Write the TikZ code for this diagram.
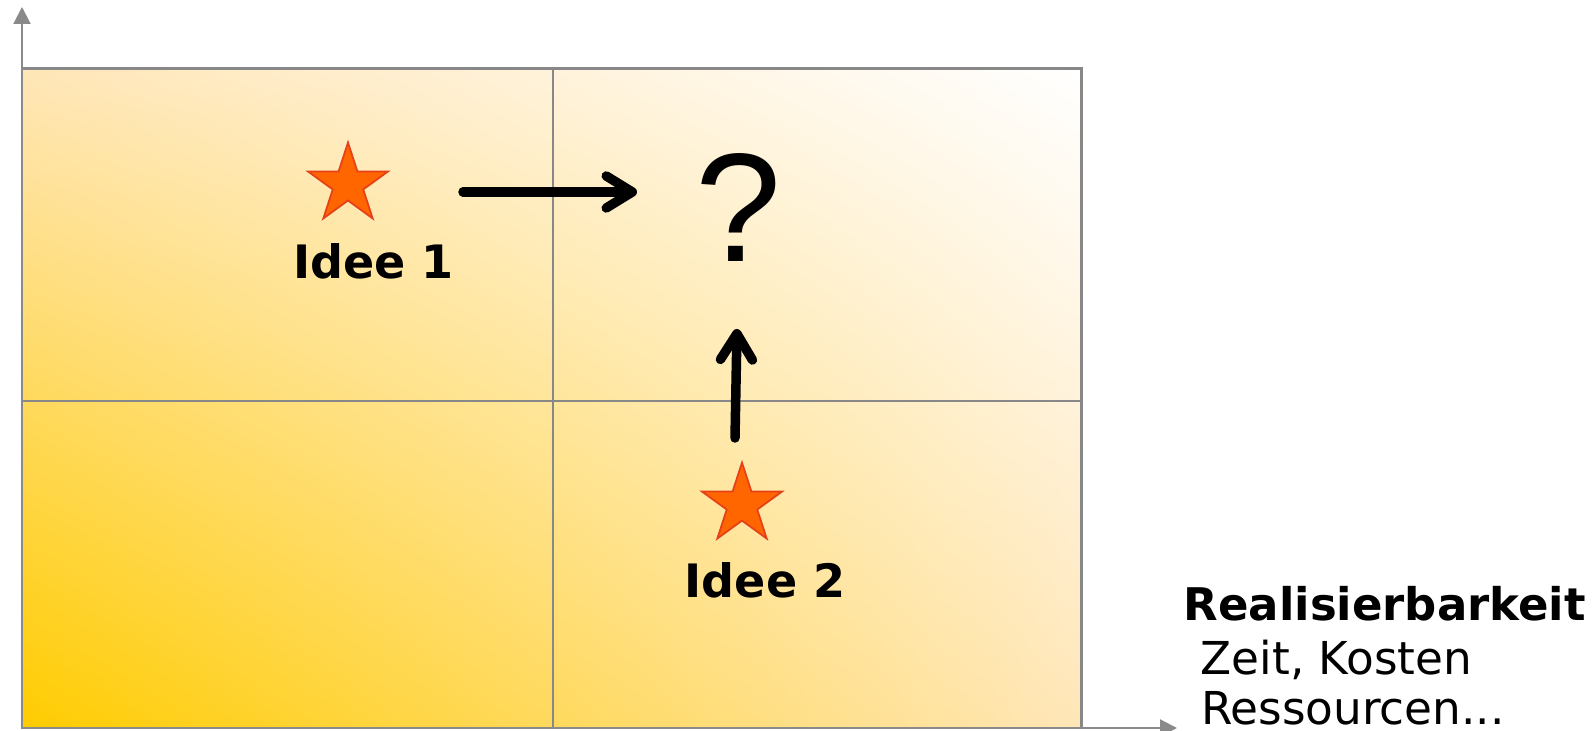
\documentclass[tikz,border=0pt]{standalone}
\usepackage{fontspec}
\setmainfont{DejaVu Sans}
\newfontfamily\qmarkfont{Liberation Sans}
\usetikzlibrary{arrows.meta,calc,shapes.geometric,shadings}
\definecolor{axisgray}{HTML}{8A8A8A}
\definecolor{gridgray}{HTML}{888888}
\definecolor{deepyellow}{HTML}{FFCC00}
\definecolor{paleorange}{HTML}{FFE6B8}
\definecolor{starfill}{HTML}{FF6600}
\definecolor{stardraw}{HTML}{E5401A}
\tikzset{
  axis/.style={-{Triangle[length=1.7mm,width=1.7mm]},draw=axisgray,line width=0.6pt},
  cell/.style={draw=gridgray,line width=0.6pt},
  ideastar/.style={star,star points=5,star point ratio=2.618,minimum size=8.4mm,
    inner sep=0pt,fill=starfill,draw=stardraw,line width=0.5pt},
  idea/.style={font=\fontsize{13.1}{15}\selectfont\bfseries,anchor=base},
  arr/.style={-{Straight Barb[length=2.6mm,width=3.2mm,round]},line width=2.7pt,line cap=round},
  lbl/.style={font=\fontsize{12.9}{15}\selectfont,anchor=base west,inner sep=0pt},
}
\begin{document}
\begin{tikzpicture}[x=1cm,y=1cm]
  \useasboundingbox (0,0) rectangle (15.94,7.31);
  \coordinate (o) at (0.22,0.03);
  \coordinate (tr) at (10.81,6.62);
  \coordinate (ytop) at (0.22,7.24);
  \coordinate (xend) at (11.77,0.03);
  % portfolio field
  \shade[lower left=deepyellow,upper left=paleorange,lower right=paleorange,upper right=white]
    (o) rectangle (tr);
  \draw[cell] (5.53,0.03) -- (5.53,6.62);
  \draw[cell] (0.22,3.30) -- (10.81,3.30);
  \draw[cell,line width=0.85pt] (o) rectangle (tr);
  \draw[axis] (o) -- (ytop);
  \draw[axis] (o) -- (xend);
  % ideas
  \node[ideastar] (s1) at (3.48,5.465) {};
  \node[idea] (i1) at (3.735,4.52) {Idee 1};
  \node[ideastar] (s2) at (7.42,2.264) {};
  \node[idea] (i2) at (7.65,1.33) {Idee 2};
  \node[font=\qmarkfont\fontsize{44}{50}\selectfont,anchor=base,inner sep=0pt] (q) at (7.38,4.69) {?};
  \draw[arr] ($(s1.center)+(1.15,-0.075)$) -- ($(q.base)+(-1.01,0.70)$);
  \draw[arr] ($(s2.center)+(-0.07,0.666)$) -- ($(q.base)+(-0.01,-0.67)$);
  % x axis caption
  \node[lbl,font=\fontsize{12.8}{15}\selectfont\bfseries] (real) at (11.83,1.10) {Realisierbarkeit};
  \node[lbl] (zeit) at (12.00,0.56) {Zeit, Kosten};
  \node[lbl] (res) at (12.005,0.06) {Ressourcen...};
\end{tikzpicture}
\end{document}
